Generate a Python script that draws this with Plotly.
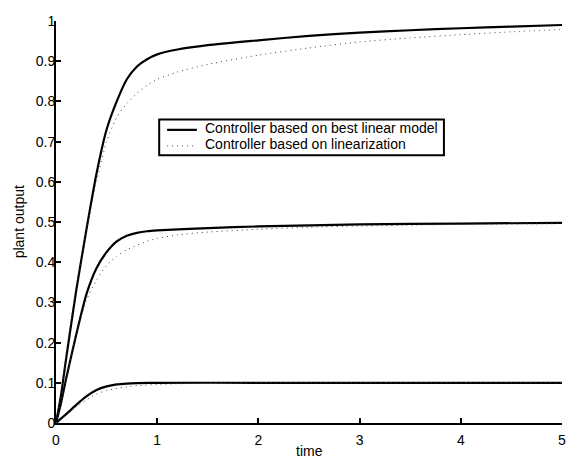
import plotly.graph_objects as go

# ---- data ----
t_s10 = [0, 0.05, 0.1, 0.2, 0.3, 0.4, 0.5, 0.6, 0.7, 0.8, 0.9, 1.0, 1.2, 1.5, 2.0, 2.5, 3.0, 3.5, 4.0, 4.5, 5.0]
y_s10 = [0, 0.07, 0.16, 0.33, 0.48, 0.62, 0.73, 0.80, 0.855, 0.887, 0.905, 0.917, 0.929, 0.940, 0.952, 0.963, 0.971, 0.977, 0.982, 0.986, 0.990]

t_d10 = [0, 0.05, 0.1, 0.2, 0.3, 0.4, 0.5, 0.6, 0.7, 0.8, 0.9, 1.0, 1.2, 1.5, 2.0, 2.5, 3.0, 3.5, 4.0, 4.5, 5.0]
y_d10 = [0, 0.075, 0.17, 0.34, 0.48, 0.60, 0.70, 0.76, 0.795, 0.82, 0.84, 0.855, 0.873, 0.892, 0.915, 0.933, 0.948, 0.958, 0.966, 0.973, 0.979]

t_s05 = [0, 0.05, 0.1, 0.2, 0.3, 0.4, 0.5, 0.6, 0.7, 0.8, 0.9, 1.0, 1.5, 2.0, 3.0, 4.0, 5.0]
y_s05 = [0, 0.05, 0.11, 0.22, 0.32, 0.385, 0.425, 0.452, 0.466, 0.473, 0.477, 0.479, 0.485, 0.489, 0.494, 0.496, 0.498]

t_d05 = [0, 0.05, 0.1, 0.2, 0.3, 0.4, 0.5, 0.6, 0.7, 0.8, 0.9, 1.0, 1.2, 1.5, 2.0, 2.5, 3.0, 4.0, 5.0]
y_d05 = [0, 0.05, 0.11, 0.22, 0.305, 0.355, 0.392, 0.415, 0.431, 0.442, 0.452, 0.459, 0.468, 0.475, 0.482, 0.487, 0.490, 0.494, 0.496]

t_s01 = [0, 0.1, 0.2, 0.3, 0.4, 0.5, 0.6, 0.7, 0.8, 1.0, 2.0, 3.0, 4.0, 5.0]
y_s01 = [0, 0.022, 0.045, 0.066, 0.082, 0.091, 0.096, 0.098, 0.099, 0.1, 0.1, 0.1, 0.1, 0.1]

t_d01 = [0, 0.1, 0.2, 0.3, 0.4, 0.5, 0.6, 0.7, 0.8, 1.0, 1.25, 1.5, 2.0, 3.0, 4.0, 5.0]
y_d01 = [0, 0.02, 0.04, 0.058, 0.072, 0.081, 0.086, 0.090, 0.093, 0.096, 0.098, 0.099, 0.1, 0.1, 0.1, 0.1]

x_ticks = [0, 1, 2, 3, 4, 5]
y_ticks = [0, 0.1, 0.2, 0.3, 0.4, 0.5, 0.6, 0.7, 0.8, 0.9, 1.0]
y_tick_labels = ["0", "0.1", "0.2", "0.3", "0.4", "0.5", "0.6", "0.7", "0.8", "0.9", "1"]

name_solid = "Controller based on best linear model"
name_dot = "Controller based on linearization"

FONT = "Liberation Sans, Arial, Helvetica, sans-serif"

solid = dict(color="black", width=2.2, shape="spline", smoothing=0.6)
dotted = dict(color="#444444", width=1, dash="1px,4px", shape="spline", smoothing=0.6)

fig = go.Figure()
for t, y in [(t_s10, y_s10), (t_s05, y_s05), (t_s01, y_s01)]:
    fig.add_trace(go.Scatter(x=t, y=y, mode="lines", line=solid, name=name_solid,
                             legendgroup="s", showlegend=False))
for t, y in [(t_d10, y_d10), (t_d05, y_d05), (t_d01, y_d01)]:
    fig.add_trace(go.Scatter(x=t, y=y, mode="lines", line=dotted, name=name_dot,
                             legendgroup="d", showlegend=False))

axis_common = dict(
    showgrid=False, zeroline=False, showline=True, linecolor="black", linewidth=2,
    ticks="inside", ticklen=5, tickwidth=1.5, tickcolor="black",
    tickfont=dict(family=FONT, size=14, color="black"), mirror=False,
    ticklabeloverflow="allow",
)

fig.update_layout(
    width=569, height=459,
    margin=dict(l=56, r=3, t=21, b=36),
    paper_bgcolor="white", plot_bgcolor="white",
    font=dict(family=FONT, size=14, color="black"),
    xaxis=dict(range=[0, 5], tickvals=x_ticks, ticktext=[str(v) for v in x_ticks],
               ticklabelstandoff=3, **axis_common),
    yaxis=dict(range=[0, 1], tickvals=y_ticks, ticktext=y_tick_labels,
               ticklabelstandoff=-4, **axis_common),
    showlegend=False,
)

# axis titles
fig.add_annotation(text="time", xref="paper", yref="paper", x=0.5, y=-0.0696,
                   xanchor="center", yanchor="middle", showarrow=False,
                   font=dict(family=FONT, size=14, color="black"))
fig.add_annotation(text="plant output", xref="paper", yref="paper", x=-0.0725, y=0.5,
                   xanchor="center", yanchor="middle", textangle=-90, showarrow=False,
                   font=dict(family=FONT, size=14, color="black"))

# legend box (drawn like the original MATLAB legend)
def py(p):  # pixel row -> paper y
    return (423 - p) / 402.5

def px(p):  # pixel column -> paper x
    return (p - 56) / 510

fig.add_shape(type="rect", xref="paper", yref="paper", x0=px(160), x1=px(447), y0=py(155), y1=py(119),
              line=dict(color="black", width=2), fillcolor="white", layer="above")
fig.add_shape(type="line", xref="paper", yref="paper", x0=px(168), x1=px(198), y0=py(129.5), y1=py(129.5),
              line=dict(color="black", width=2.2), layer="above")
fig.add_shape(type="line", xref="paper", yref="paper", x0=px(168), x1=px(198), y0=py(145.5), y1=py(145.5),
              line=dict(color="#444444", width=1, dash="1px,4px"), layer="above")
fig.add_annotation(text=name_solid, xref="paper", yref="paper", x=px(204), y=py(128),
                   xanchor="left", yanchor="middle", showarrow=False,
                   font=dict(family=FONT, size=14, color="black"))
fig.add_annotation(text=name_dot, xref="paper", yref="paper", x=px(204), y=py(144),
                   xanchor="left", yanchor="middle", showarrow=False,
                   font=dict(family=FONT, size=14, color="black"))

fig.write_html("out.html", config={"displayModeBar": False},
               post_script="document.body.style.margin='0';")
